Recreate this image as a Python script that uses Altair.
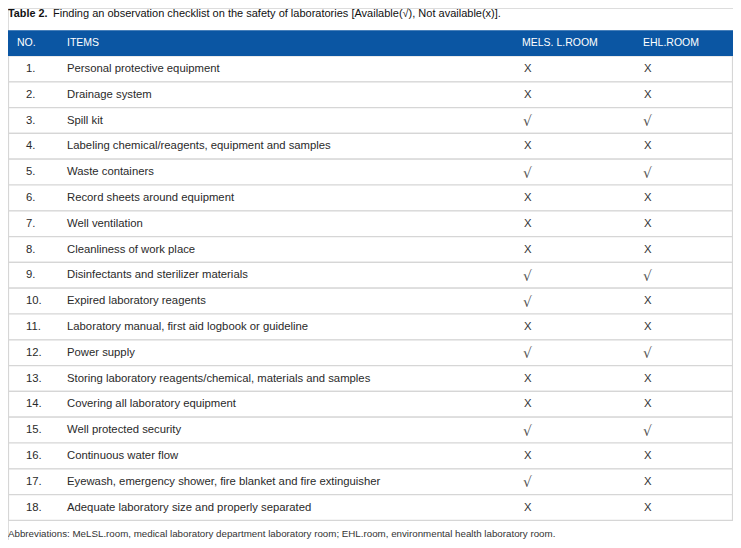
import altair as alt
import pandas as pd

nos = [f"{i}." for i in range(1, 19)]
items = [
    "Personal protective equipment",
    "Drainage system",
    "Spill kit",
    "Labeling chemical/reagents, equipment and samples",
    "Waste containers",
    "Record sheets around equipment",
    "Well ventilation",
    "Cleanliness of work place",
    "Disinfectants and sterilizer materials",
    "Expired laboratory reagents",
    "Laboratory manual, first aid logbook or guideline",
    "Power supply",
    "Storing laboratory reagents/chemical, materials and samples",
    " Covering all laboratory equipment",
    "Well protected security",
    "Continuous water flow",
    "Eyewash, emergency shower, fire blanket and fire extinguisher",
    "Adequate laboratory size and properly separated",
]
mels = ["X", "X", "√", "X", "√", "X", "X", "X", "√", "√", "X", "√", "X", "X", "√", "X", "√", "X"]
ehl = ["X", "X", "√", "X", "√", "X", "X", "X", "√", "X", "X", "√", "X", "X", "√", "X", "X", "X"]
headers = ["NO.", "ITEMS", "MELS. L.ROOM", "EHL.ROOM"]
title_bold = "Table 2."
title_rest = "Finding an observation checklist on the safety of laboratories [Available(√), Not available(x)]."
footnote = "Abbreviations: MeLSL.room, medical laboratory department laboratory room; EHL.room, environmental health laboratory room."

W, H = 725, 532
FONT = "Liberation Sans"
BLUE = "#0b56a3"
GRID = "#d6d6d6"
TXT = "#2a2a2a"

rows = pd.DataFrame({
    "row": list(range(1, 19)),
    "no": nos, "item": items, "mels": mels, "ehl": ehl,
})
rows["top"] = rows["row"] - 1
rows["bot"] = rows["row"]
rows["mid"] = rows["row"] - 0.5

hdr = pd.DataFrame({"top": [-1], "bot": [0], "mid": [-0.5]})

yscale = alt.Scale(domain=[-48 / 25.8, (H - 48) / 25.8], range=[0, H], nice=False, zero=False)

def Y(f):
    return alt.Y(f + ":Q", scale=yscale, axis=None)

base_rows = alt.Chart(rows)

row_rects = base_rows.mark_rect(fill="white", stroke=GRID, strokeWidth=1.2).encode(
    x=alt.value(0.5), x2=alt.value(W - 0.5), y=Y("top"), y2="bot:Q"
)
hdr_rect = alt.Chart(hdr).mark_rect(fill=BLUE).encode(
    x=alt.value(0), x2=alt.value(W), y=Y("top"), y2="bot:Q"
)

def txt(data, field, xpos, color=TXT, size=11.3, font=FONT, dy=0):
    return alt.Chart(data).mark_text(
        align="left", baseline="middle", font=font, fontSize=size, color=color, dy=dy
    ).encode(x=alt.value(xpos), y=Y("mid"), text=field + ":N")

hdr_df = pd.DataFrame({"mid": [-0.5] * 4, "h": headers, "x": [9, 59, 514, 635]})
hdr_text = alt.Chart(hdr_df).mark_text(
    align="left", baseline="middle", font=FONT, fontSize=10.5, color="white"
).encode(x=alt.X("x:Q", scale=alt.Scale(domain=[0, W], range=[0, W]), axis=None), y=Y("mid"), text="h:N")

no_text = txt(rows, "no", 18)
item_text = txt(rows, "item", 59)

def mark_col(field, xpos):
    xs = txt(rows, field, xpos, color="#333").transform_filter(f"datum.{field} == 'X'")
    ck = txt(rows, field, xpos - 1, color="#555", size=14, font="DejaVu Sans", dy=1.5).transform_filter(
        f"datum.{field} != 'X'"
    )
    return xs + ck

mels_text = mark_col("mels", 516)
ehl_text = mark_col("ehl", 636)

title1 = alt.Chart(pd.DataFrame({"t": [title_bold]})).mark_text(
    align="left", baseline="middle", font=FONT, fontSize=10.8, fontWeight="bold", color="#111"
).encode(x=alt.value(0), y=alt.value(6), text="t:N")
title2 = alt.Chart(pd.DataFrame({"t": [title_rest]})).mark_text(
    align="left", baseline="middle", font=FONT, fontSize=11, color="#111"
).encode(x=alt.value(45), y=alt.value(6), text="t:N")
foot = alt.Chart(pd.DataFrame({"t": [footnote]})).mark_text(
    align="left", baseline="middle", font=FONT, fontSize=9.75, color="#333"
).encode(x=alt.value(0), y=alt.value(526), text="t:N")

chart = alt.layer(
    row_rects, hdr_rect, hdr_text, no_text, item_text, mels_text, ehl_text, title1, title2, foot
).properties(
    width=W, height=H, padding=0, autosize=alt.AutoSizeParams(type="none")
).configure_view(stroke=None).configure(background="white")

chart.save("out.html", embed_options={"renderer": "svg", "actions": False})
